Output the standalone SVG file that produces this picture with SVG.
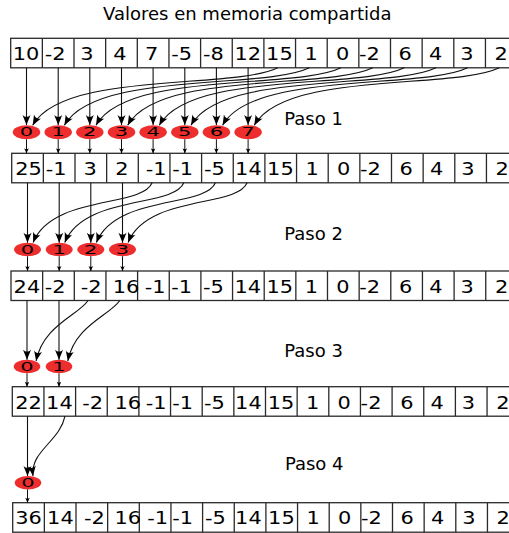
<svg xmlns="http://www.w3.org/2000/svg" xmlns:xlink="http://www.w3.org/1999/xlink" width="509" height="533" viewBox="0 0 509 533">
  <style>
    .t { font-family: "DejaVu Sans", "Liberation Sans", sans-serif; fill: #000; }
    .title, .step { font-size: 18px; }
    .cell { font-size: 18.5px; }
    .box { fill: #fff; stroke: #2a2a2a; stroke-width: 1.3; }
    .grid { fill: none; stroke: #2a2a2a; stroke-width: 1.3; }
    .node ellipse { fill: #ee2e2e; stroke: none; }
    .node text { font-family: "DejaVu Sans", "Liberation Sans", sans-serif; font-size: 12px; text-anchor: middle; fill: #000; }
    .big { fill: none; stroke: #111; stroke-width: 1.1; marker-end: url(#ah); }
    .small { fill: none; stroke: #111; stroke-width: 1; marker-end: url(#ahs); }
  </style>
  <defs>
    <marker id="ah" viewBox="-11 -5 12 10" refX="0" refY="0" markerWidth="12" markerHeight="10" markerUnits="userSpaceOnUse" orient="auto">
      <path d="M0,0 L-10,-4 C-7.5,-1.5 -7.5,1.5 -10,4 Z" fill="#000"/>
    </marker>
    <marker id="ahs" viewBox="-6 -3 7 6" refX="0" refY="0" markerWidth="7" markerHeight="6" markerUnits="userSpaceOnUse" orient="auto">
      <path d="M0,0 L-5,-2.3 C-3.8,-0.8 -3.8,0.8 -5,2.3 Z" fill="#000"/>
    </marker>
    <!-- one array row: outer box and the 15 inner cell dividers -->
    <g id="cells">
      <rect class="box" x="0" y="0" width="506.4" height="29.5"/>
      <path class="grid" d="M31.65,0v29.5M63.3,0v29.5M94.95,0v29.5M126.6,0v29.5M158.25,0v29.5M189.9,0v29.5M221.55,0v29.5M253.2,0v29.5M284.85,0v29.5M316.5,0v29.5M348.15,0v29.5M379.8,0v29.5M411.45,0v29.5M443.1,0v29.5M474.75,0v29.5"/>
    </g>
    <!-- upper half of the array, unchanged in every row -->
    <g id="tail" class="t cell">
      <text transform="translate(255.4,22) scale(1.13,1)">15</text>
      <text transform="translate(293.8,22) scale(1.13,1)">1</text>
      <text transform="translate(325.3,22) scale(1.13,1)">0</text>
      <text transform="translate(348.3,22) scale(1.13,1)">-2</text>
      <text transform="translate(387.9,22) scale(1.13,1)">6</text>
      <text transform="translate(418.3,22) scale(1.13,1)">4</text>
      <text transform="translate(449.5,22) scale(1.13,1)">3</text>
      <text transform="translate(483.9,22) scale(1.13,1)">2</text>
    </g>
  </defs>

  <rect width="509" height="533" fill="#fff"/>

  <text class="t title" x="103" y="20">Valores en memoria compartida</text>
  <text class="t step" x="284.2" y="124.5">Paso 1</text>
  <text class="t step" x="284.2" y="240">Paso 2</text>
  <text class="t step" x="284.2" y="357.3">Paso 3</text>
  <text class="t step" x="284.9" y="470">Paso 4</text>

  <!-- array rows -->
  <g id="row0" transform="translate(10.7,38.3)">
    <use xlink:href="#cells"/>
    <g class="t cell">
      <text transform="translate(2.1,22) scale(1.13,1)">10</text>
      <text transform="translate(34,22) scale(1.13,1)">-2</text>
      <text transform="translate(69.5,22) scale(1.13,1)">3</text>
      <text transform="translate(102.6,22) scale(1.13,1)">4</text>
      <text transform="translate(134.4,22) scale(1.13,1)">7</text>
      <text transform="translate(160.6,22) scale(1.13,1)">-5</text>
      <text transform="translate(192.3,22) scale(1.13,1)">-8</text>
      <text transform="translate(223.8,22) scale(1.13,1)">12</text>
    </g>
    <use xlink:href="#tail"/>
  </g>
  <g id="row1" transform="translate(11.7,153.3)">
    <use xlink:href="#cells"/>
    <g class="t cell">
      <text transform="translate(3.6,22) scale(1.13,1)">25</text>
      <text transform="translate(34,22) scale(1.13,1)">-1</text>
      <text transform="translate(71.8,22) scale(1.13,1)">3</text>
      <text transform="translate(103.6,22) scale(1.13,1)">2</text>
      <text transform="translate(134,22) scale(1.13,1)">-1</text>
      <text transform="translate(160.6,22) scale(1.13,1)">-1</text>
      <text transform="translate(192.3,22) scale(1.13,1)">-5</text>
      <text transform="translate(223.4,22) scale(1.13,1)">14</text>
    </g>
    <use xlink:href="#tail"/>
  </g>
  <g id="row2" transform="translate(11,271)">
    <use xlink:href="#cells"/>
    <g class="t cell">
      <text transform="translate(2.6,22) scale(1.13,1)">24</text>
      <text transform="translate(33.7,22) scale(1.13,1)">-2</text>
      <text transform="translate(69.7,22) scale(1.13,1)">-2</text>
      <text transform="translate(101.8,22) scale(1.13,1)">16</text>
      <text transform="translate(133.7,22) scale(1.13,1)">-1</text>
      <text transform="translate(160.3,22) scale(1.13,1)">-1</text>
      <text transform="translate(192,22) scale(1.13,1)">-5</text>
      <text transform="translate(223.5,22) scale(1.13,1)">14</text>
    </g>
    <use xlink:href="#tail"/>
  </g>
  <g id="row3" transform="translate(12.3,386.7)">
    <use xlink:href="#cells"/>
    <g class="t cell">
      <text transform="translate(3,22) scale(1.13,1)">22</text>
      <text transform="translate(33.8,22) scale(1.13,1)">14</text>
      <text transform="translate(70,22) scale(1.13,1)">-2</text>
      <text transform="translate(102.2,22) scale(1.13,1)">16</text>
      <text transform="translate(133.4,22) scale(1.13,1)">-1</text>
      <text transform="translate(160,22) scale(1.13,1)">-1</text>
      <text transform="translate(191.7,22) scale(1.13,1)">-5</text>
      <text transform="translate(222.8,22) scale(1.13,1)">14</text>
    </g>
    <use xlink:href="#tail"/>
  </g>
  <g id="row4" transform="translate(12.7,502.7)">
    <use xlink:href="#cells"/>
    <g class="t cell">
      <text transform="translate(2.6,21.7) scale(1.13,1)">36</text>
      <text transform="translate(34.4,21.7) scale(1.13,1)">14</text>
      <text transform="translate(71.3,21.7) scale(1.13,1)">-2</text>
      <text transform="translate(101.8,21.7) scale(1.13,1)">16</text>
      <text transform="translate(134.6,21.7) scale(1.13,1)">-1</text>
      <text transform="translate(159.6,21.7) scale(1.13,1)">-1</text>
      <text transform="translate(192.3,21.7) scale(1.13,1)">-5</text>
      <text transform="translate(222.4,21.7) scale(1.13,1)">14</text>
    </g>
    <use xlink:href="#tail" transform="translate(0,-0.3)"/>
  </g>

  <!-- step 1 threads -->
  <g id="s1t0" class="node"><ellipse cx="26.5" cy="132.2" rx="13.7" ry="7"/><text transform="translate(26.5,136.2) scale(1.75,1)">0</text></g>
  <g id="s1t1" class="node"><ellipse cx="58.2" cy="132.2" rx="13.7" ry="7"/><text transform="translate(58.2,136.2) scale(1.75,1)">1</text></g>
  <g id="s1t2" class="node"><ellipse cx="89.8" cy="132.2" rx="13.7" ry="7"/><text transform="translate(89.8,136.2) scale(1.75,1)">2</text></g>
  <g id="s1t3" class="node"><ellipse cx="121.5" cy="132.2" rx="13.7" ry="7"/><text transform="translate(121.5,136.2) scale(1.75,1)">3</text></g>
  <g id="s1t4" class="node"><ellipse cx="153.1" cy="132.2" rx="13.7" ry="7"/><text transform="translate(153.1,136.2) scale(1.75,1)">4</text></g>
  <g id="s1t5" class="node"><ellipse cx="184.8" cy="132.2" rx="13.7" ry="7"/><text transform="translate(184.8,136.2) scale(1.75,1)">5</text></g>
  <g id="s1t6" class="node"><ellipse cx="216.4" cy="132.2" rx="13.7" ry="7"/><text transform="translate(216.4,136.2) scale(1.75,1)">6</text></g>
  <g id="s1t7" class="node"><ellipse cx="248.1" cy="132.2" rx="13.7" ry="7"/><text transform="translate(248.1,136.2) scale(1.75,1)">7</text></g>

  <!-- step 2 threads -->
  <g id="s2t0" class="node"><ellipse cx="27.5" cy="249.5" rx="13.5" ry="6.8"/><text transform="translate(27.5,253.5) scale(1.75,1)">0</text></g>
  <g id="s2t1" class="node"><ellipse cx="59.2" cy="249.5" rx="13.5" ry="6.8"/><text transform="translate(59.2,253.5) scale(1.75,1)">1</text></g>
  <g id="s2t2" class="node"><ellipse cx="90.8" cy="249.5" rx="13.5" ry="6.8"/><text transform="translate(90.8,253.5) scale(1.75,1)">2</text></g>
  <g id="s2t3" class="node"><ellipse cx="122.5" cy="249.5" rx="13.5" ry="6.8"/><text transform="translate(122.5,253.5) scale(1.75,1)">3</text></g>

  <!-- step 3 threads -->
  <g id="s3t0" class="node"><ellipse cx="27" cy="366.5" rx="13.3" ry="6.8"/><text transform="translate(27,370.5) scale(1.75,1)">0</text></g>
  <g id="s3t1" class="node"><ellipse cx="59" cy="366.5" rx="13.3" ry="6.8"/><text transform="translate(59,370.5) scale(1.75,1)">1</text></g>

  <!-- step 4 thread -->
  <g id="s4t0" class="node"><ellipse cx="28" cy="482.7" rx="13.3" ry="6.7"/><text transform="translate(28,486.7) scale(1.75,1)">0</text></g>

  <!-- connectors -->
  <g id="connectors">
    <!-- step 1: own element straight down, partner element from the upper half -->
    <path class="big" d="M26.5,67.8V125"/>
    <path class="big" d="M58.2,67.8V125"/>
    <path class="big" d="M89.8,67.8V125"/>
    <path class="big" d="M121.5,67.8V125"/>
    <path class="big" d="M153.1,67.8V125"/>
    <path class="big" d="M184.8,67.8V125"/>
    <path class="big" d="M216.4,67.8V125"/>
    <path class="big" d="M248.1,67.8V125"/>
    <path class="big" d="M277.7,67.8c-45,22 -215,3 -245,57.5"/>
    <path class="big" d="M309.4,67.8c-45,22 -215,3 -245,57.5"/>
    <path class="big" d="M341,67.8c-45,22 -215,3 -245,57.5"/>
    <path class="big" d="M372.7,67.8c-45,22 -215,3 -245,57.5"/>
    <path class="big" d="M404.3,67.8c-45,22 -215,3 -245,57.5"/>
    <path class="big" d="M436,67.8c-45,22 -215,3 -245,57.5"/>
    <path class="big" d="M467.6,67.8c-45,22 -215,3 -245,57.5"/>
    <path class="big" d="M499.3,67.8c-45,22 -215,3 -245,57.5"/>
    <path class="small" d="M26.5,139.3V153.3"/>
    <path class="small" d="M58.2,139.3V153.3"/>
    <path class="small" d="M89.8,139.3V153.3"/>
    <path class="small" d="M121.5,139.3V153.3"/>
    <path class="small" d="M153.1,139.3V153.3"/>
    <path class="small" d="M184.8,139.3V153.3"/>
    <path class="small" d="M216.4,139.3V153.3"/>
    <path class="small" d="M248.1,139.3V153.3"/>

    <!-- step 2 -->
    <path class="big" d="M27.5,182.8V242.7"/>
    <path class="big" d="M59.2,182.8V242.7"/>
    <path class="big" d="M90.8,182.8V242.7"/>
    <path class="big" d="M122.5,182.8V242.7"/>
    <path class="big" d="M152.1,182.8c-10,25 -100,12 -119,59.7"/>
    <path class="big" d="M183.8,182.8c-10,25 -100,12 -119,59.7"/>
    <path class="big" d="M215.4,182.8c-10,25 -100,12 -119,59.7"/>
    <path class="big" d="M247.1,182.8c-10,25 -100,12 -119,59.7"/>
    <path class="small" d="M27.5,256.3V271"/>
    <path class="small" d="M59.2,256.3V271"/>
    <path class="small" d="M90.8,256.3V271"/>
    <path class="small" d="M122.5,256.3V271"/>

    <!-- step 3 -->
    <path class="big" d="M27,300.5V359.7"/>
    <path class="big" d="M59,300.5V359.7"/>
    <path class="big" d="M88.1,300.5c-10,15 -45,25 -52,60.5"/>
    <path class="big" d="M119.8,300.5c-10,15 -45,25 -52,60.5"/>
    <path class="small" d="M27,373.3V386.7"/>
    <path class="small" d="M59,373.3V386.7"/>

    <!-- step 4 -->
    <path class="big" d="M27.5,416.2V476"/>
    <path class="big" d="M65,416.2c-5,25 -35,35 -32,59.8"/>
    <path class="small" d="M27.5,489.4V502.7"/>
  </g>
</svg>
